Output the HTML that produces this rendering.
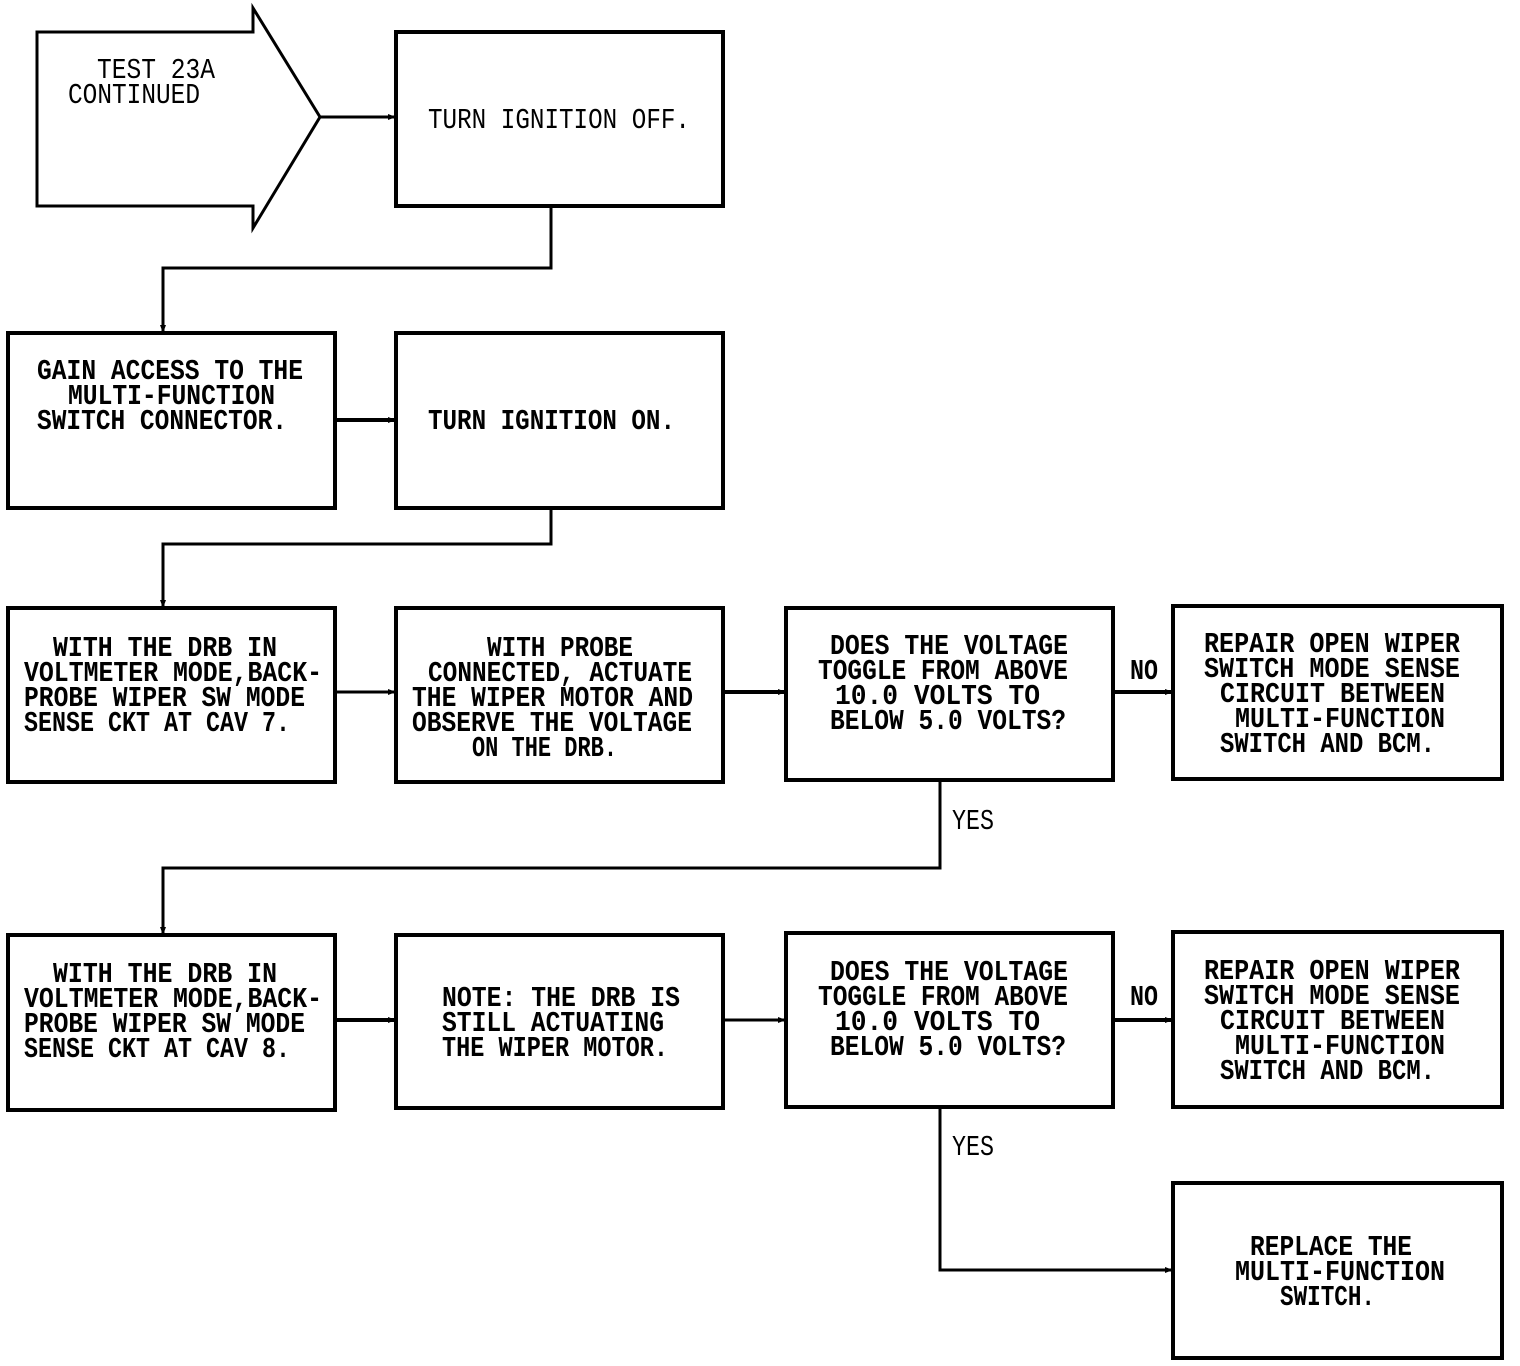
<!DOCTYPE html>
<html><head><meta charset="utf-8"><style>
html,body{margin:0;padding:0;background:#fff;}
svg{display:block;}
text{font-family:"Liberation Mono",monospace;font-size:29px;fill:#000;font-weight:bold;}
</style></head><body>
<svg width="1520" height="1366" viewBox="0 0 1520 1366" xmlns="http://www.w3.org/2000/svg">
<defs><marker id="a" markerWidth="8" markerHeight="8" refX="7" refY="4" orient="auto" markerUnits="userSpaceOnUse"><path d="M0,1 L8,4 L0,7z" fill="#000"/></marker></defs>
<g fill="none" stroke="#000" stroke-width="4">
<polygon points="37,32 253,32 253,8 320,117 253,228 253,206 37,206" stroke-width="3"/>
<rect x="396" y="32" width="327" height="174"/>
<rect x="8" y="333" width="327" height="175"/>
<rect x="396" y="333" width="327" height="175"/>
<rect x="8" y="608" width="327" height="174"/>
<rect x="396" y="608" width="327" height="174"/>
<rect x="786" y="608" width="327" height="172"/>
<rect x="1173" y="606" width="329" height="173"/>
<rect x="8" y="935" width="327" height="175"/>
<rect x="396" y="935" width="327" height="173"/>
<rect x="786" y="933" width="327" height="174"/>
<rect x="1173" y="932" width="329" height="175"/>
<rect x="1173" y="1183" width="329" height="175"/>
</g>
<g fill="none" stroke="#000" stroke-width="3">
<path d="M320,117 H395" marker-end="url(#a)"/>
<path d="M551,206 V268 H163 V332" marker-end="url(#a)"/>
<path d="M335,420 H395" stroke-width="4" marker-end="url(#a)"/>
<path d="M551,508 V544 H163 V607" marker-end="url(#a)"/>
<path d="M335,692 H395" marker-end="url(#a)"/>
<path d="M723,692 H785" stroke-width="4" marker-end="url(#a)"/>
<path d="M1113,692 H1172" stroke-width="4" marker-end="url(#a)"/>
<path d="M940,782 V868 H163 V934" marker-end="url(#a)"/>
<path d="M335,1020 H395" stroke-width="4" marker-end="url(#a)"/>
<path d="M723,1020 H785" marker-end="url(#a)"/>
<path d="M1113,1020 H1172" stroke-width="4" marker-end="url(#a)"/>
<path d="M940,1107 V1270 H1172" marker-end="url(#a)"/>
</g>
<g>
<text x="97" y="78" textLength="118" lengthAdjust="spacingAndGlyphs" style="font-weight:normal">TEST 23A</text>
<text x="68" y="103" textLength="132" lengthAdjust="spacingAndGlyphs" style="font-weight:normal">CONTINUED</text>
<text x="428" y="128" textLength="262" lengthAdjust="spacingAndGlyphs" style="font-weight:normal">TURN IGNITION OFF.</text>
<text x="37" y="379" textLength="266" lengthAdjust="spacingAndGlyphs">GAIN ACCESS TO THE</text>
<text x="68" y="404" textLength="207" lengthAdjust="spacingAndGlyphs">MULTI-FUNCTION</text>
<text x="37" y="429" textLength="250" lengthAdjust="spacingAndGlyphs">SWITCH CONNECTOR.</text>
<text x="428" y="429" textLength="247" lengthAdjust="spacingAndGlyphs">TURN IGNITION ON.</text>

<text x="53" y="656" textLength="224" lengthAdjust="spacingAndGlyphs">WITH THE DRB IN</text>
<text x="24" y="681" textLength="298" lengthAdjust="spacingAndGlyphs">VOLTMETER MODE,BACK-</text>
<text x="24" y="706" textLength="281" lengthAdjust="spacingAndGlyphs">PROBE WIPER SW MODE</text>
<text x="24" y="731" textLength="266" lengthAdjust="spacingAndGlyphs">SENSE CKT AT CAV 7.</text>

<text x="487" y="656" textLength="146" lengthAdjust="spacingAndGlyphs">WITH PROBE</text>
<text x="428" y="681" textLength="264" lengthAdjust="spacingAndGlyphs">CONNECTED, ACTUATE</text>
<text x="412" y="706" textLength="281" lengthAdjust="spacingAndGlyphs">THE WIPER MOTOR AND</text>
<text x="412" y="731" textLength="280" lengthAdjust="spacingAndGlyphs">OBSERVE THE VOLTAGE</text>
<text x="472" y="756" textLength="145" lengthAdjust="spacingAndGlyphs">ON THE DRB.</text>

<text x="830" y="654" textLength="238" lengthAdjust="spacingAndGlyphs">DOES THE VOLTAGE</text>
<text x="818" y="679" textLength="250" lengthAdjust="spacingAndGlyphs">TOGGLE FROM ABOVE</text>
<text x="835" y="704" textLength="205" lengthAdjust="spacingAndGlyphs">10.0 VOLTS TO</text>
<text x="830" y="729" textLength="236" lengthAdjust="spacingAndGlyphs">BELOW 5.0 VOLTS?</text>

<text x="1204" y="652" textLength="256" lengthAdjust="spacingAndGlyphs">REPAIR OPEN WIPER</text>
<text x="1204" y="677" textLength="256" lengthAdjust="spacingAndGlyphs">SWITCH MODE SENSE</text>
<text x="1220" y="702" textLength="225" lengthAdjust="spacingAndGlyphs">CIRCUIT BETWEEN</text>
<text x="1235" y="727" textLength="210" lengthAdjust="spacingAndGlyphs">MULTI-FUNCTION</text>
<text x="1220" y="752" textLength="215" lengthAdjust="spacingAndGlyphs">SWITCH AND BCM.</text>

<text x="1130" y="679" textLength="28" lengthAdjust="spacingAndGlyphs">NO</text>
<text x="952" y="829" textLength="42" lengthAdjust="spacingAndGlyphs" style="font-weight:normal">YES</text>

<text x="53" y="982" textLength="224" lengthAdjust="spacingAndGlyphs">WITH THE DRB IN</text>
<text x="24" y="1007" textLength="298" lengthAdjust="spacingAndGlyphs">VOLTMETER MODE,BACK-</text>
<text x="24" y="1032" textLength="281" lengthAdjust="spacingAndGlyphs">PROBE WIPER SW MODE</text>
<text x="24" y="1057" textLength="266" lengthAdjust="spacingAndGlyphs">SENSE CKT AT CAV 8.</text>

<text x="442" y="1006" textLength="238" lengthAdjust="spacingAndGlyphs">NOTE: THE DRB IS</text>
<text x="442" y="1031" textLength="222" lengthAdjust="spacingAndGlyphs">STILL ACTUATING</text>
<text x="442" y="1056" textLength="226" lengthAdjust="spacingAndGlyphs">THE WIPER MOTOR.</text>

<text x="830" y="980" textLength="238" lengthAdjust="spacingAndGlyphs">DOES THE VOLTAGE</text>
<text x="818" y="1005" textLength="250" lengthAdjust="spacingAndGlyphs">TOGGLE FROM ABOVE</text>
<text x="835" y="1030" textLength="205" lengthAdjust="spacingAndGlyphs">10.0 VOLTS TO</text>
<text x="830" y="1055" textLength="236" lengthAdjust="spacingAndGlyphs">BELOW 5.0 VOLTS?</text>

<text x="1204" y="979" textLength="256" lengthAdjust="spacingAndGlyphs">REPAIR OPEN WIPER</text>
<text x="1204" y="1004" textLength="256" lengthAdjust="spacingAndGlyphs">SWITCH MODE SENSE</text>
<text x="1220" y="1029" textLength="225" lengthAdjust="spacingAndGlyphs">CIRCUIT BETWEEN</text>
<text x="1235" y="1054" textLength="210" lengthAdjust="spacingAndGlyphs">MULTI-FUNCTION</text>
<text x="1220" y="1079" textLength="215" lengthAdjust="spacingAndGlyphs">SWITCH AND BCM.</text>

<text x="1130" y="1005" textLength="28" lengthAdjust="spacingAndGlyphs">NO</text>
<text x="952" y="1155" textLength="42" lengthAdjust="spacingAndGlyphs" style="font-weight:normal">YES</text>

<text x="1250" y="1255" textLength="162" lengthAdjust="spacingAndGlyphs">REPLACE THE</text>
<text x="1235" y="1280" textLength="210" lengthAdjust="spacingAndGlyphs">MULTI-FUNCTION</text>
<text x="1280" y="1305" textLength="95" lengthAdjust="spacingAndGlyphs">SWITCH.</text>
</g>
</svg>
</body></html>
